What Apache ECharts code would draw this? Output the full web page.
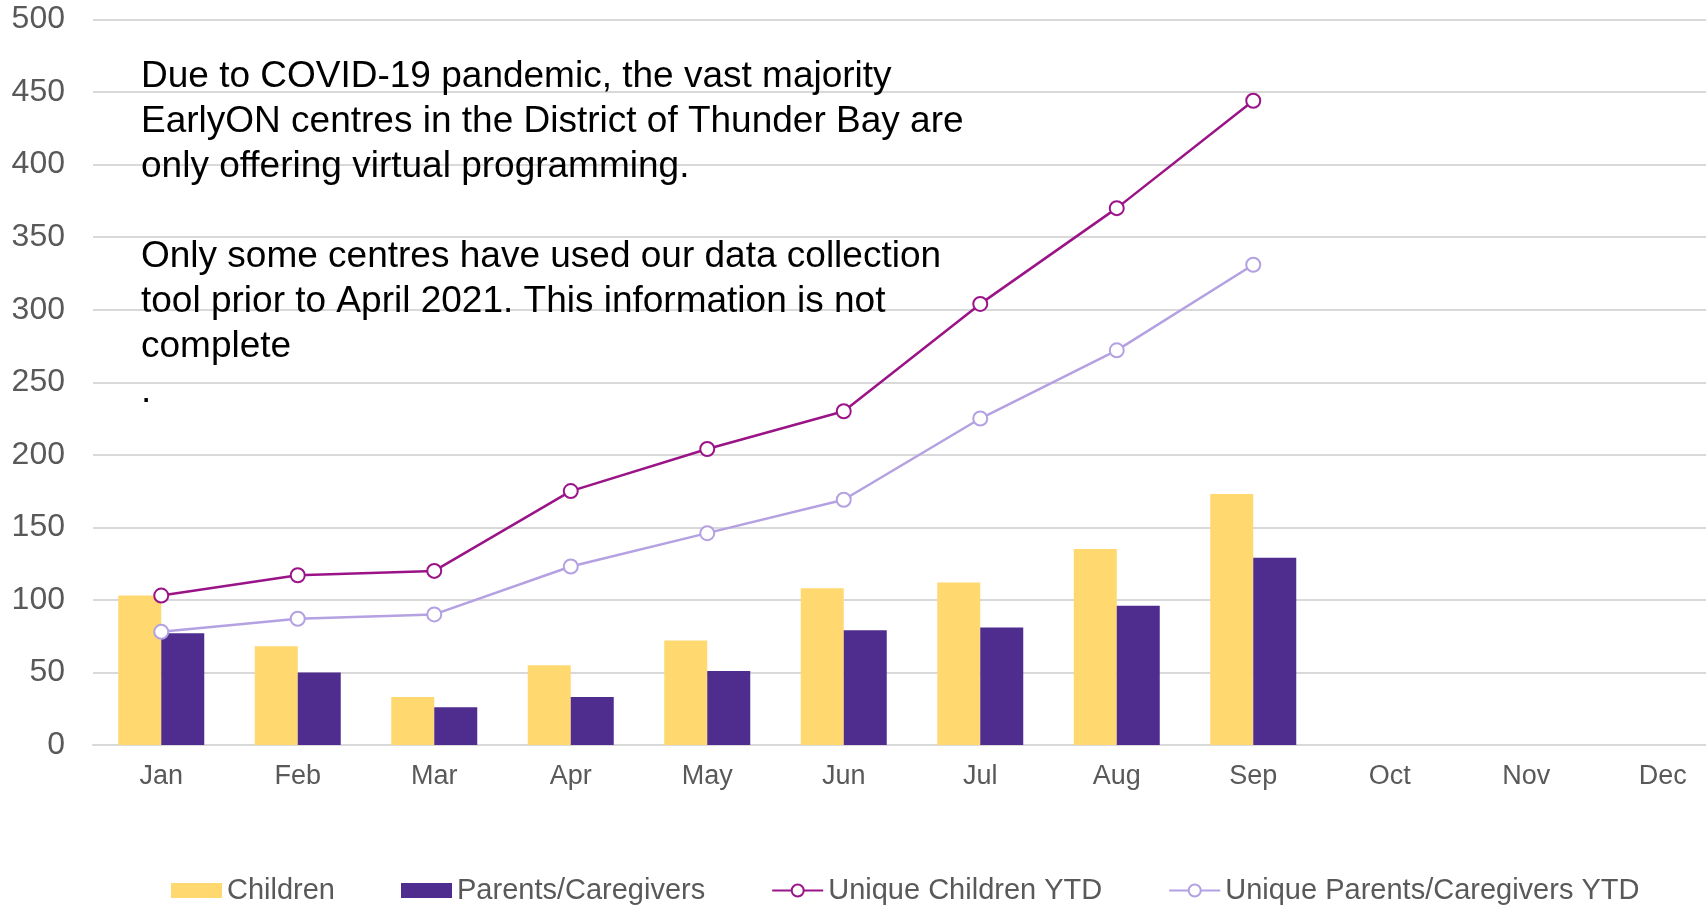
<!DOCTYPE html>
<html>
<head>
<meta charset="utf-8">
<script src="https://cdn.jsdelivr.net/npm/echarts@6/dist/echarts.min.js"></script>
<style>
html,body{margin:0;padding:0;background:#fff;}
#chart{width:1706px;height:907px;}
</style>
</head>
<body>
<div id="chart"></div>
<script>
const months = ['Jan','Feb','Mar','Apr','May','Jun','Jul','Aug','Sep','Oct','Nov','Dec'];
const children = [103, 68, 33, 55, 72, 108, 112, 135, 173, null, null, null];
const parents = [77, 50, 26, 33, 51, 79, 81, 96, 129, null, null, null];
const uniqueChildrenYTD = [103, 117, 120, 175, 204, 230, 304, 370, 444, null, null, null];
const uniqueParentsYTD = [78, 87, 90, 123, 146, 169, 225, 272, 331, null, null, null];
const noteLines = [
  'Due to COVID-19 pandemic, the vast majority',
  'EarlyON centres in the District of Thunder Bay are',
  'only offering virtual programming.',
  '',
  'Only some centres have used our data collection',
  'tool prior to April 2021. This information is not',
  'complete',
  '.'
];

const FONT = '"Liberation Sans", Arial, sans-serif';
const chart = echarts.init(document.getElementById('chart'));
chart.setOption({
  animation: false,
  backgroundColor: '#ffffff',
  textStyle: { fontFamily: FONT },
  grid: { left: 93, top: 19.5, width: 1638, bottom: 162, containLabel: false, outerBoundsMode: 'none' },
  legend: {
    left: 166, top: 871,
    itemWidth: 51, itemHeight: 15, itemGap: 66,
    textStyle: { fontSize: 29, color: '#595959', fontFamily: FONT },
    data: [
      { name: 'Children', icon: 'rect' },
      { name: 'Parents/Caregivers', icon: 'rect' },
      { name: 'Unique Children YTD' },
      { name: 'Unique Parents/Caregivers YTD' }
    ]
  },
  xAxis: {
    type: 'category',
    data: months,
    axisLine: { show: true, lineStyle: { color: '#d9d9d9', width: 2 } },
    axisTick: { show: false },
    axisLabel: { color: '#595959', fontSize: 27, margin: 18, fontFamily: FONT }
  },
  yAxis: {
    type: 'value',
    min: 0, max: 500, interval: 50,
    axisLine: { show: false },
    axisTick: { show: false },
    axisLabel: { color: '#595959', fontSize: 32, margin: 28, fontFamily: FONT },
    splitLine: { lineStyle: { color: '#d9d9d9', width: 2 } }
  },
  graphic: [{
    type: 'text',
    left: 141, top: 54,
    style: {
      text: noteLines.join('\n'),
      font: '37px ' + FONT,
      lineHeight: 45,
      fill: '#000000'
    },
    z: 10
  }],
  series: [
    { name: 'Children', type: 'bar', data: children, barWidth: 43, barGap: '0%',
      itemStyle: { color: '#FFD86F' } },
    { name: 'Parents/Caregivers', type: 'bar', data: parents, barWidth: 43, barGap: '0%',
      itemStyle: { color: '#4E2D8F' } },
    { name: 'Unique Children YTD', type: 'line', data: uniqueChildrenYTD,
      symbol: 'emptyCircle', symbolSize: 14, z: 5,
      lineStyle: { color: '#9A1488', width: 2.5 },
      itemStyle: { color: '#9A1488', borderColor: '#9A1488', borderWidth: 2.5 } },
    { name: 'Unique Parents/Caregivers YTD', type: 'line', data: uniqueParentsYTD,
      symbol: 'emptyCircle', symbolSize: 14, z: 5,
      lineStyle: { color: '#B4A1E2', width: 2.5 },
      itemStyle: { color: '#B4A1E2', borderColor: '#B4A1E2', borderWidth: 2.5 } }
  ]
});
</script>
</body>
</html>
